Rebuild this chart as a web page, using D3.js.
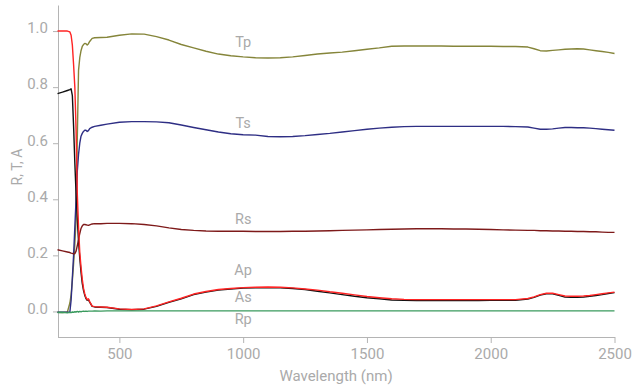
<!DOCTYPE html>
<html>
<head>
<meta charset="utf-8">
<script src="https://cdn.jsdelivr.net/npm/d3@7"></script>
<style>
  html, body { margin: 0; padding: 0; background: #fff; }
  svg { display: block; font-family: Roboto, "Noto Sans", sans-serif; }
</style>
</head>
<body>
<svg id="chart" width="640" height="389"></svg>
<script>
// Wavelength grid (nm) shared by all spectra
const wavelength = [250, 270, 290, 300, 305, 310, 315, 320, 325, 330,
  335, 340, 345, 350, 355, 360, 365, 370, 375, 380,
  390, 400, 425, 450, 500, 550, 600, 650, 700, 750,
  800, 850, 900, 950, 1000, 1050, 1100, 1150, 1200, 1250,
  1300, 1350, 1400, 1450, 1500, 1550, 1600, 1650, 1700, 1750,
  1800, 1850, 1900, 1950, 2000, 2050, 2100, 2150, 2175, 2200,
  2225, 2250, 2275, 2300, 2325, 2350, 2375, 2400, 2425, 2450,
  2475, 2500];

// Transmittance, p-polarised
const Tp = [-0.003, -0.004, -0.002, 0.03, 0.06, 0.11, 0.17, 0.24, 0.33, 0.62,
  0.86, 0.905, 0.93, 0.945, 0.952, 0.956, 0.955, 0.95, 0.955, 0.963,
  0.974, 0.976, 0.977, 0.978, 0.985, 0.99, 0.989, 0.98, 0.968, 0.952,
  0.94, 0.928, 0.918, 0.912, 0.908, 0.905, 0.904, 0.905, 0.908, 0.913,
  0.918, 0.922, 0.925, 0.93, 0.935, 0.94, 0.946, 0.947, 0.947, 0.947,
  0.947, 0.946, 0.946, 0.946, 0.946, 0.945, 0.945, 0.943, 0.937, 0.93,
  0.929, 0.931, 0.933, 0.935, 0.936, 0.937, 0.936, 0.933, 0.93, 0.927,
  0.924, 0.92];

// Transmittance, s-polarised
const Ts = [-0.003, -0.003, -0.003, -0.002, 0.04, 0.12, 0.2, 0.3, 0.4, 0.5,
  0.56, 0.6, 0.625, 0.635, 0.642, 0.646, 0.646, 0.642, 0.645, 0.652,
  0.657, 0.66, 0.664, 0.668, 0.675, 0.677, 0.677, 0.676, 0.673, 0.665,
  0.656, 0.648, 0.64, 0.634, 0.63, 0.629, 0.624, 0.623, 0.624, 0.627,
  0.631, 0.635, 0.64, 0.645, 0.65, 0.654, 0.657, 0.659, 0.66, 0.66,
  0.66, 0.66, 0.66, 0.66, 0.66, 0.66, 0.659, 0.658, 0.654, 0.65,
  0.65, 0.651, 0.654, 0.656, 0.656, 0.655, 0.655, 0.654, 0.652, 0.65,
  0.648, 0.646];

// Reflectance, s-polarised
const Rs = [0.22, 0.216, 0.212, 0.21, 0.208, 0.207, 0.205, 0.206, 0.215, 0.235,
  0.255, 0.278, 0.296, 0.305, 0.31, 0.31, 0.309, 0.308, 0.307, 0.309,
  0.312, 0.313, 0.313, 0.314, 0.314, 0.313, 0.31, 0.305, 0.298, 0.292,
  0.289, 0.287, 0.286, 0.286, 0.286, 0.285, 0.285, 0.285, 0.286, 0.286,
  0.287, 0.288, 0.289, 0.29, 0.291, 0.292, 0.293, 0.294, 0.295, 0.295,
  0.295, 0.294, 0.294, 0.293, 0.292, 0.291, 0.29, 0.289, 0.289, 0.288,
  0.288, 0.287, 0.287, 0.286, 0.286, 0.285, 0.285, 0.284, 0.284, 0.283,
  0.282, 0.282];

// Absorptance, p-polarised
const Ap = [1.0, 1.0, 1.0, 0.997, 0.985, 0.95, 0.88, 0.8, 0.65, 0.42,
  0.3, 0.21, 0.158, 0.115, 0.083, 0.063, 0.05, 0.042, 0.045, 0.035,
  0.019, 0.017, 0.016, 0.015, 0.009, 0.007, 0.009, 0.02, 0.034, 0.047,
  0.062, 0.071, 0.078, 0.082, 0.085, 0.086, 0.087, 0.086, 0.084, 0.08,
  0.076, 0.07, 0.065, 0.059, 0.053, 0.049, 0.045, 0.043, 0.042, 0.042,
  0.042, 0.042, 0.042, 0.042, 0.042, 0.042, 0.042, 0.046, 0.052, 0.06,
  0.065, 0.065, 0.06, 0.055, 0.054, 0.054, 0.055, 0.057, 0.06, 0.063,
  0.066, 0.069];

// Absorptance, s-polarised
const As = [0.777, 0.782, 0.788, 0.791, 0.794, 0.77, 0.66, 0.53, 0.42, 0.33,
  0.25, 0.19, 0.14, 0.1, 0.075, 0.058, 0.046, 0.04, 0.042, 0.033,
  0.018, 0.016, 0.015, 0.014, 0.008, 0.006, 0.008, 0.018, 0.032, 0.045,
  0.06, 0.069, 0.076, 0.08, 0.083, 0.084, 0.085, 0.084, 0.082, 0.078,
  0.072, 0.066, 0.06, 0.054, 0.049, 0.045, 0.041, 0.04, 0.039, 0.039,
  0.039, 0.039, 0.039, 0.039, 0.04, 0.04, 0.04, 0.044, 0.05, 0.058,
  0.063, 0.063, 0.057, 0.051, 0.05, 0.05, 0.051, 0.054, 0.057, 0.06,
  0.064, 0.067];

// Reflectance, p-polarised
const Rp = [-0.004, -0.003, -0.005, -0.003, -0.004, -0.002, -0.003, -0.001, -0.002, 0.0,
  -0.002, 0.0, -0.001, 0.0, 0.001, 0.0, 0.001, 0.0, 0.001, 0.001,
  0.001, 0.002, 0.001, 0.002, 0.002, 0.002, 0.002, 0.002, 0.002, 0.002,
  0.002, 0.002, 0.002, 0.002, 0.002, 0.002, 0.002, 0.002, 0.002, 0.002,
  0.002, 0.002, 0.002, 0.002, 0.002, 0.002, 0.002, 0.002, 0.002, 0.002,
  0.002, 0.002, 0.002, 0.002, 0.002, 0.002, 0.002, 0.002, 0.002, 0.002,
  0.002, 0.002, 0.002, 0.002, 0.002, 0.002, 0.002, 0.002, 0.002, 0.002,
  0.002, 0.002];

const xTicks = [500, 1000, 1500, 2000, 2500];
const yTicks = [0.0, 0.2, 0.4, 0.6, 0.8, 1.0];

const series = [
  { name: "Tp", values: Tp, color: "#85853a", labelAt: 0.942 },
  { name: "Ts", values: Ts, color: "#2e2e84", labelAt: 0.654 },
  { name: "Rs", values: Rs, color: "#7e1a1a", labelAt: 0.313 },
  { name: "As", values: As, color: "#111111", labelAt: 0.033 },
  { name: "Ap", values: Ap, color: "#ff2424", labelAt: 0.129 },
  { name: "Rp", values: Rp, color: "#3a9a5e", labelAt: -0.044 }
];

const textColor = "#aaaaaa";
const axisColor = "#b4b4b4";

const svg = d3.select("#chart");

const x = d3.scaleLinear().domain([250, 2500]).range([57.5, 614.5]);
const y = d3.scaleLinear().domain([-0.093, 1.093]).range([337.5, 5]);

// Axes
const xAxis = svg.append("g")
  .attr("transform", "translate(0,337)")
  .call(d3.axisBottom(x).tickValues(xTicks).tickFormat(d3.format("d"))
    .tickSize(6).tickSizeOuter(0).tickPadding(5));

const yAxis = svg.append("g")
  .attr("transform", "translate(58,0)")
  .call(d3.axisLeft(y).tickValues(yTicks).tickFormat(d3.format(".1f"))
    .tickSize(5).tickSizeOuter(0).tickPadding(5));

[xAxis, yAxis].forEach(g => {
  g.select(".domain").attr("stroke", axisColor);
  g.selectAll(".tick line").attr("stroke", axisColor);
  g.selectAll(".tick text")
    .attr("fill", textColor)
    .style("font-size", "15px")
    .style("font-family", "Roboto, sans-serif");
});
xAxis.selectAll(".tick text").attr("dy", "0.71em").attr("y", 11);
yAxis.selectAll(".tick text").attr("dy", "0.0em").attr("y", 1.8);

// Axis titles
svg.append("text")
  .attr("x", (x.range()[0] + x.range()[1]) / 2)
  .attr("y", 381)
  .attr("text-anchor", "middle")
  .attr("fill", textColor)
  .style("font-size", "15px")
  .text("Wavelength (nm)");

svg.append("text")
  .attr("transform", "translate(22,167) rotate(-90)")
  .attr("text-anchor", "middle")
  .attr("fill", textColor)
  .style("font-size", "14px")
  .text("R, T, A");

// Spectra
const line = d3.line()
  .x((d, i) => x(wavelength[i]))
  .y(d => y(d));

svg.append("g")
  .selectAll("path")
  .data(series)
  .join("path")
  .attr("d", s => line(s.values))
  .attr("fill", "none")
  .attr("stroke", s => s.color)
  .attr("stroke-width", 1.4)
  .attr("stroke-linejoin", "round");

// Series names
svg.append("g")
  .selectAll("text")
  .data(series)
  .join("text")
  .attr("x", x(1000))
  .attr("y", s => y(s.labelAt))
  .attr("text-anchor", "middle")
  .attr("fill", textColor)
  .style("font-size", "14.5px")
  .text(s => s.name);
</script>
</body>
</html>
